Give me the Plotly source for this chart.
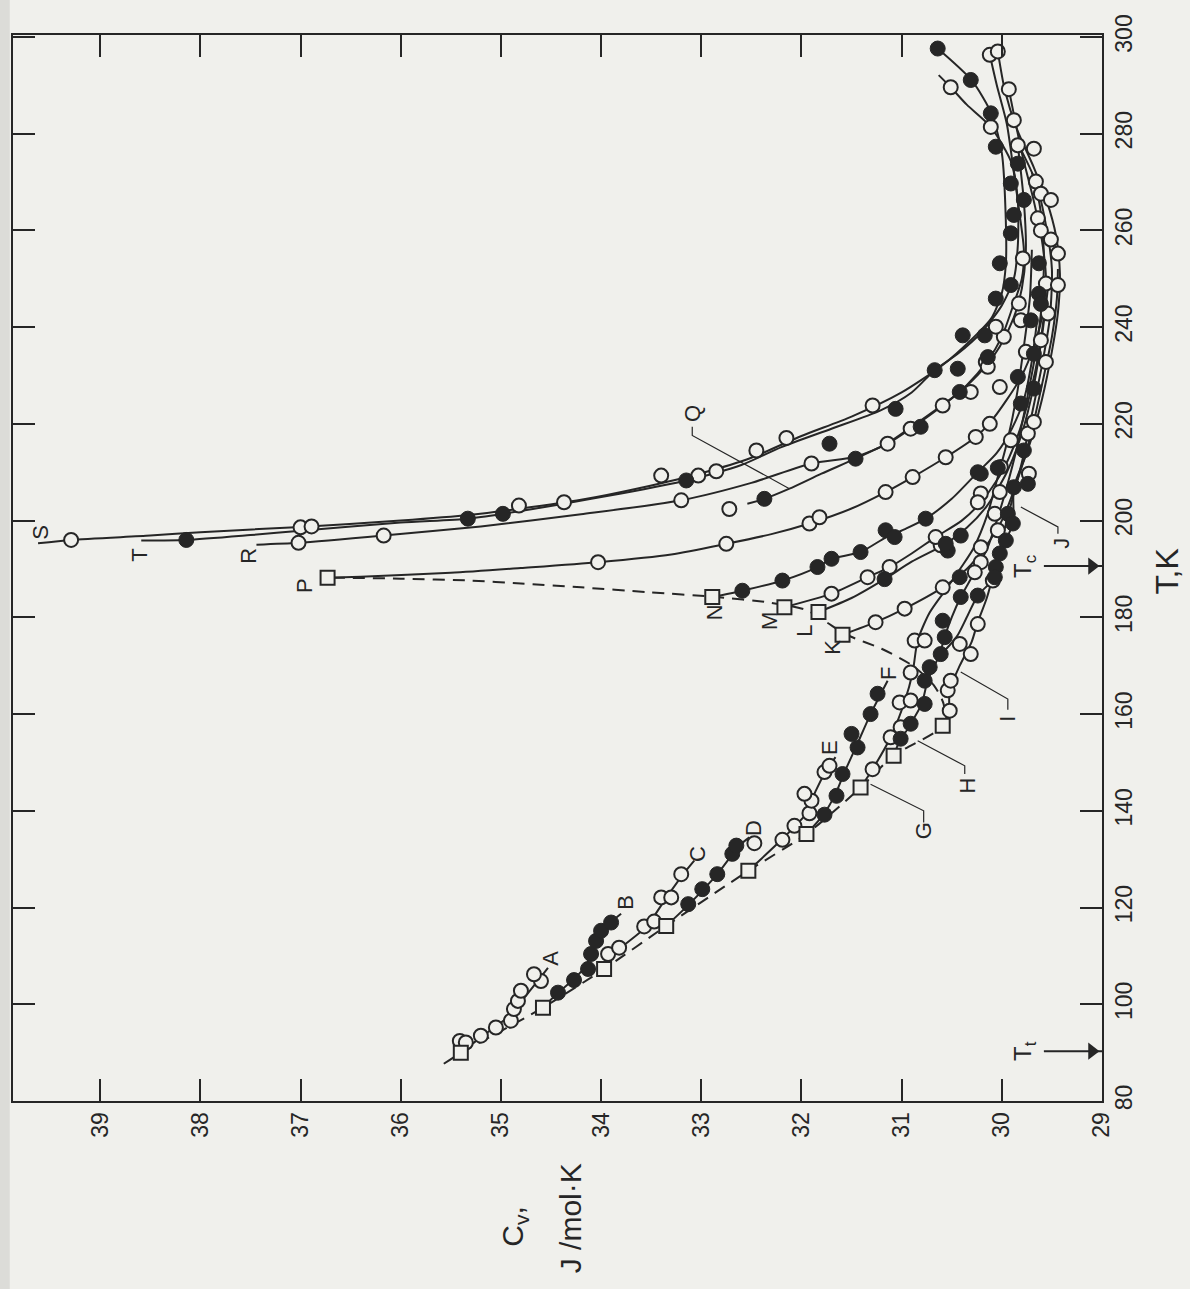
import plotly.graph_objects as go

INK = '#262626'
BG = '#f0f0ec'
FONT = 'Liberation Sans'

# ---------------- axes ----------------
cv_ticks = list(range(29, 40))
t_ticks = list(range(80, 301, 20))

# ---------------- coexistence (dashed) curve + squares ----------------
dash_T = [90.0, 99.3, 107.3, 116.2, 127.6, 135.2, 144.8, 151.4, 157.6, 162.0, 166.0, 170.0, 173.5,
          176.4, 179.0, 181.5, 183.0, 184.2, 185.2, 186.2, 187.0, 187.6, 188.0, 188.2]
dash_Cv = [35.40, 34.58, 33.97, 33.35, 32.53, 31.95, 31.41, 31.08, 30.59, 30.58, 30.68, 30.89, 31.20,
           31.55, 31.75, 31.95, 32.30, 32.85, 33.53, 34.20, 34.80, 35.30, 36.00, 36.73]
sq_T = [90.0, 99.3, 107.3, 116.2, 127.6, 135.2, 144.8, 151.4, 157.6, 176.4, 181.1, 182.1, 184.2, 188.2]
sq_Cv = [35.40, 34.58, 33.97, 33.35, 32.53, 31.95, 31.41, 31.08, 30.59, 31.59, 31.83, 32.17, 32.89, 36.73]

# ---------------- isochores: fitted lines ----------------
A_T = [87.7, 90.0, 93.5, 97.0, 101.0, 107.5]
A_Cv = [35.57, 35.40, 35.18, 34.95, 34.78, 34.53]
B_T = [99.3, 102.4, 105.0, 108.0, 112.0, 116.0, 118.7]
B_Cv = [34.58, 34.43, 34.28, 34.15, 34.06, 33.95, 33.80]
C_T = [107.3, 111.0, 116.0, 122.0, 126.9, 129.7]
C_Cv = [33.97, 33.84, 33.55, 33.35, 33.18, 33.07]
D_T = [116.2, 120.7, 126.9, 132.8, 134.5]
D_Cv = [33.35, 33.12, 32.84, 32.62, 32.52]
E_T = [127.6, 134.0, 139.5, 144.0, 148.0, 151.1]
E_Cv = [32.53, 32.20, 31.95, 31.86, 31.76, 31.66]
F_T = [135.2, 139.2, 143.5, 148.0, 153.0, 160.0, 166.9]
F_Cv = [31.95, 31.78, 31.66, 31.57, 31.46, 31.31, 31.14]
G_T = [144.8, 148.6, 155.2, 162.6, 168.6, 175.2, 181.0, 186.0, 190.5, 194.4, 201.5, 208.3, 216.0, 226.0, 236.0, 246.0, 256.0]
G_Cv = [31.41, 31.29, 31.11, 30.97, 30.89, 30.84, 30.72, 30.55, 30.40, 30.28, 30.14, 30.05, 29.95, 29.85, 29.78, 29.72, 29.70]
H_T = [151.4, 154.9, 158.0, 162.1, 166.9, 172.4, 176.0, 180.0, 184.2, 188.3, 194.0, 200.0, 207.0, 215.0, 225.0, 235.0, 245.0, 255.0, 265.0, 272.0]
H_Cv = [31.08, 31.01, 30.91, 30.80, 30.74, 30.62, 30.57, 30.50, 30.41, 30.30, 30.15, 30.05, 29.95, 29.85, 29.75, 29.66, 29.60, 29.58, 29.62, 29.70]
I_T = [157.6, 160.7, 165.0, 170.0, 175.0, 179.0, 184.0, 190.0, 196.0, 204.0, 212.0, 222.0, 232.0, 242.0, 252.0, 260.0, 270.0, 278.0]
I_Cv = [30.59, 30.53, 30.52, 30.42, 30.30, 30.24, 30.15, 30.07, 30.00, 29.90, 29.80, 29.70, 29.60, 29.52, 29.50, 29.55, 29.66, 29.84]
J_T = [172.0, 176.0, 180.0, 184.5, 188.3, 193.2, 199.4, 206.9, 214.0, 225.0, 235.0, 243.0, 251.0, 259.0, 266.0, 273.0, 281.0, 289.0, 297.0]
J_Cv = [30.62, 30.45, 30.35, 30.24, 30.07, 30.02, 29.89, 29.88, 29.75, 29.60, 29.50, 29.44, 29.42, 29.46, 29.55, 29.68, 29.85, 29.97, 30.04]
K_T = [176.4, 179.0, 181.8, 186.2, 190.0, 195.0, 200.0, 208.0, 217.0, 228.0, 238.0, 246.0, 252.0]
K_Cv = [31.59, 31.26, 30.97, 30.59, 30.35, 30.15, 30.00, 29.85, 29.72, 29.60, 29.50, 29.45, 29.44]
L_T = [181.1, 184.0, 187.9, 191.5, 195.2, 198.5, 203.0, 210.0, 218.0, 228.0, 238.0, 248.0]
L_Cv = [31.83, 31.50, 31.17, 30.90, 30.56, 30.35, 30.15, 29.95, 29.80, 29.68, 29.60, 29.54]
M_T = [182.1, 184.9, 188.3, 190.4, 193.2, 196.6, 200.0, 204.0, 210.0, 217.0, 226.0, 236.0, 246.0]
M_Cv = [32.17, 31.70, 31.34, 31.12, 30.90, 30.66, 30.40, 30.20, 30.00, 29.85, 29.72, 29.62, 29.56]
N_T = [184.2, 185.5, 187.6, 190.4, 192.1, 193.5, 196.5, 198.3, 200.4, 204.5, 210.0, 214.0, 219.0, 225.0, 233.0, 241.0]
N_Cv = [32.89, 32.59, 32.19, 31.84, 31.70, 31.41, 31.16, 30.96, 30.76, 30.50, 30.24, 30.05, 29.90, 29.78, 29.70, 29.65]
P_T = [188.2, 188.4, 189.2, 190.2, 191.4, 193.0, 195.2, 197.2, 199.4, 202.5, 205.9, 209.0, 213.1, 217.3, 220.2, 225.0, 230.0, 236.0, 242.0, 250.0, 258.0, 266.0, 276.0, 289.2]
P_Cv = [36.73, 36.40, 35.50, 34.80, 34.03, 33.30, 32.75, 32.30, 31.92, 31.50, 31.16, 30.89, 30.56, 30.26, 30.12, 29.95, 29.80, 29.68, 29.60, 29.56, 29.60, 29.68, 29.80, 29.93]
Q_T = [203.5, 204.5, 206.6, 209.7, 212.8, 216.0, 219.4, 223.8, 226.6, 231.0, 236.0, 242.0, 248.0, 256.0, 266.0, 277.6]
Q_Cv = [32.54, 32.37, 32.12, 31.80, 31.46, 31.14, 30.90, 30.60, 30.42, 30.20, 30.02, 29.88, 29.80, 29.76, 29.78, 29.84]
R_T = [195.0, 195.4, 196.9, 198.8, 201.3, 204.2, 207.8, 211.8, 213.2, 215.9, 219.0, 223.8, 228.0, 232.8, 238.0, 244.9, 250.0, 256.0, 263.0, 272.0, 282.0, 290.0, 296.3]
R_Cv = [37.44, 37.02, 36.17, 35.20, 34.20, 33.20, 32.50, 31.90, 31.46, 31.14, 30.91, 30.59, 30.35, 30.15, 30.00, 29.88, 29.80, 29.78, 29.82, 29.88, 29.95, 30.05, 30.12]
S_T = [195.3, 196.0, 196.9, 197.6, 198.7, 200.0, 201.2, 202.5, 204.3, 206.8, 209.8, 213.0, 217.5, 221.5, 226.5, 232.0, 237.5, 242.0, 247.0, 253.0, 262.0, 276.0, 284.0, 291.0, 297.6]
S_Cv = [39.62, 39.29, 38.50, 38.00, 37.00, 36.00, 35.30, 34.80, 34.20, 33.60, 33.00, 32.50, 32.00, 31.50, 31.00, 30.60, 30.30, 30.10, 30.00, 29.96, 29.96, 30.00, 30.10, 30.30, 30.64]
T_T = [195.9, 196.0, 197.0, 197.9, 199.6, 200.4, 201.4, 203.4, 205.6, 208.3, 211.5, 215.2, 219.0, 222.8, 226.5, 231.1, 234.5, 239.0, 244.5, 250.0, 257.0, 266.0, 273.8, 281.4, 286.0, 289.6, 292.1]
T_Cv = [38.59, 38.14, 37.50, 37.00, 36.00, 35.33, 34.98, 34.40, 33.80, 33.15, 32.60, 32.20, 31.70, 31.21, 30.90, 30.67, 30.44, 30.20, 30.00, 29.88, 29.84, 29.84, 29.90, 30.11, 30.35, 30.51, 30.63]

# ---------------- measured points ----------------
A_open_T = [92.4, 92.1, 93.5, 95.2, 96.6, 99.0, 100.7, 102.8, 104.8, 106.2]
A_open_Cv = [35.41, 35.35, 35.20, 35.05, 34.90, 34.87, 34.83, 34.80, 34.60, 34.67]
B_fill_T = [102.4, 105.0, 107.3, 110.4, 113.1, 115.2, 116.9]
B_fill_Cv = [34.43, 34.27, 34.13, 34.10, 34.05, 34.00, 33.90]
C_open_T = [110.4, 111.7, 116.1, 117.1, 122.1, 122.1, 126.9]
C_open_Cv = [33.93, 33.82, 33.57, 33.47, 33.40, 33.30, 33.20]
D_fill_T = [120.7, 123.8, 126.9, 131.1, 132.8]
D_fill_Cv = [33.13, 32.99, 32.84, 32.69, 32.65]
D_open_T = [133.3]
D_open_Cv = [32.47]
E_open_T = [134.0, 136.9, 139.5, 142.1, 143.5, 148.0, 149.3]
E_open_Cv = [32.19, 32.07, 31.92, 31.90, 31.97, 31.77, 31.72]
F_fill_T = [139.2, 143.1, 147.6, 153.1, 155.9, 160.0, 164.2]
F_fill_Cv = [31.77, 31.65, 31.59, 31.44, 31.50, 31.31, 31.24]
G_open_T = [148.6, 155.2, 157.3, 162.4, 162.8, 168.6, 175.2, 175.2]
G_open_Cv = [31.29, 31.11, 31.01, 31.02, 30.91, 30.91, 30.87, 30.77]
H_fill_T = [154.9, 158.0, 162.1, 166.9, 169.7, 172.4, 175.9, 179.3, 184.2]
H_fill_Cv = [31.01, 30.91, 30.77, 30.77, 30.72, 30.61, 30.57, 30.59, 30.41]
I_open_T = [160.7, 164.9, 166.9, 172.4, 174.5, 178.6]
I_open_Cv = [30.52, 30.54, 30.51, 30.31, 30.42, 30.24]
K_open_T = [179.0, 181.8, 186.2]
K_open_Cv = [31.26, 30.97, 30.59]
L_fill_T = [187.9, 193.8, 195.2, 196.9]
L_fill_Cv = [31.17, 30.54, 30.56, 30.41]
M_open_T = [184.9, 188.3, 190.4, 196.6]
M_open_Cv = [31.70, 31.34, 31.12, 30.66]
N_fill_T = [185.5, 187.6, 190.4, 192.1, 193.5, 198.0, 196.6, 200.4, 210.0]
N_fill_Cv = [32.59, 32.19, 31.84, 31.70, 31.41, 31.16, 31.07, 30.76, 30.24]
P_open_T = [191.4, 195.2, 199.4, 200.7, 205.9, 209.0, 213.1, 217.3, 220.0]
P_open_Cv = [34.03, 32.75, 31.92, 31.82, 31.16, 30.89, 30.56, 30.26, 30.12]
Q_open_T = [202.4]
Q_open_Cv = [32.72]
Q_fill_T = [204.5, 212.8, 219.4, 226.6]
Q_fill_Cv = [32.37, 31.46, 30.81, 30.42]
R_open_T = [195.4, 196.9, 204.2, 211.8, 215.9, 219.0, 223.8, 226.6]
R_open_Cv = [37.02, 36.17, 33.20, 31.90, 31.14, 30.91, 30.59, 30.31]
S_open_T = [196.0, 198.6, 198.8, 203.1, 203.8, 209.3, 209.3, 210.2, 214.5, 217.1, 223.8]
S_open_Cv = [39.29, 37.00, 36.89, 34.82, 34.37, 33.40, 33.03, 32.85, 32.45, 32.15, 31.29]
T_fill_T = [196.0, 200.4, 201.4, 208.3, 215.9, 223.1, 231.1]
T_fill_Cv = [38.14, 35.33, 34.98, 33.15, 31.72, 31.06, 30.67]

bundle_open_T = [296.3, 297.0, 289.6, 289.2, 282.8, 281.4, 277.6, 276.9, 270.1, 267.6, 266.3, 262.5, 260.0,
                 258.1, 255.2, 254.2, 249.0, 248.7, 244.9, 242.8, 241.4, 238.0, 240.1, 237.3, 234.9, 232.8,
                 232.8, 227.6, 216.6, 218.0, 220.4, 209.7, 211.1, 231.8, 205.6, 205.9, 203.8, 201.4, 198.0,
                 194.5, 191.4, 189.3, 187.6, 194.9]
bundle_open_Cv = [30.12, 30.04, 30.51, 29.93, 29.88, 30.11, 29.84, 29.68, 29.66, 29.61, 29.51, 29.64, 29.61,
                  29.51, 29.44, 29.79, 29.56, 29.44, 29.83, 29.54, 29.81, 29.98, 30.06, 29.61, 29.76, 29.56,
                  30.16, 30.02, 29.91, 29.74, 29.68, 29.73, 30.01, 30.14, 30.21, 30.02, 30.24, 30.07, 30.04,
                  30.21, 30.21, 30.27, 30.09, 30.61]
bundle_fill_T = [297.6, 291.1, 284.2, 277.3, 273.8, 269.7, 266.3, 263.2, 259.4, 253.2, 253.2, 248.7, 245.9,
                 246.9, 244.8, 241.4, 238.3, 238.3, 233.8, 231.4, 234.5, 229.7, 227.3, 224.2, 209.7, 214.5,
                 207.6, 210.9, 206.9, 201.4, 199.4, 195.9, 193.2, 190.4, 188.3, 184.5, 188.3]
bundle_fill_Cv = [30.64, 30.31, 30.11, 30.06, 29.84, 29.91, 29.78, 29.88, 29.91, 29.63, 30.02, 29.91, 30.06,
                  29.63, 29.61, 29.71, 30.17, 30.39, 30.14, 30.44, 29.68, 29.84, 29.68, 29.81, 30.21, 29.78,
                  29.74, 30.04, 29.88, 29.94, 29.89, 29.96, 30.02, 30.06, 30.07, 30.24, 30.42]

# ---------------- curve labels ----------------
lab_text = ['A', 'B', 'C', 'D', 'E', 'F', 'G', 'H', 'I', 'J', 'K', 'L', 'M', 'N', 'P', 'Q', 'R', 'S', 'T']
lab_Cv = [34.50, 33.75, 33.03, 32.48, 31.72, 31.13, 30.78, 30.34, 29.94, 29.40, 31.69, 31.97, 32.32, 32.87, 36.96, 33.09, 37.52, 39.59, 38.61]
lab_T = [109.6, 121.0, 131.1, 136.5, 153.1, 168.4, 135.9, 145.2, 159.0, 195.4, 173.8, 177.3, 179.3, 181.1, 186.6, 222.1, 192.8, 197.5, 192.8]

# leader lines (label -> curve)
leadG_T = [137.6, 140.0, 145.5]
leadG_Cv = [30.78, 30.78, 31.31]
leadH_T = [147.6, 149.3, 154.5]
leadH_Cv = [30.37, 30.37, 30.84]
leadI_T = [160.9, 163.1, 168.7]
leadI_Cv = [29.94, 29.94, 30.41]
leadJ_T = [197.3, 198.7, 202.8]
leadJ_Cv = [29.44, 29.44, 29.81]
leadQ_T = [219.4, 217.6, 206.6]
leadQ_Cv = [33.09, 33.09, 32.12]

# special temperatures (arrows on the T axis)
T_triple = 90.3
T_crit = 190.6
arrow_Cv = [29.58, 29.0]

fig = go.Figure()


def add_line(T, Cv, dash='solid', width=2.0, spline=True):
    fig.add_trace(go.Scatter(
        x=Cv, y=T, mode='lines', hoverinfo='skip', showlegend=False,
        line=dict(color=INK, width=width, dash=dash,
                  shape='spline' if spline else 'linear', smoothing=0.7)))


def add_pts(T, Cv, kind):
    if kind == 'open':
        mk = dict(symbol='circle', size=14, color=BG, line=dict(color=INK, width=2))
    elif kind == 'filled':
        mk = dict(symbol='circle', size=15, color=INK, line=dict(color=INK, width=1))
    else:
        mk = dict(symbol='square', size=14, color=BG, line=dict(color=INK, width=2))
    fig.add_trace(go.Scatter(x=Cv, y=T, mode='markers', marker=mk,
                             hoverinfo='skip', showlegend=False))


add_line(dash_T, dash_Cv, dash='12px,8px')
for T, Cv in [(A_T, A_Cv), (B_T, B_Cv), (C_T, C_Cv), (D_T, D_Cv), (E_T, E_Cv), (F_T, F_Cv),
              (G_T, G_Cv), (H_T, H_Cv), (I_T, I_Cv), (J_T, J_Cv), (K_T, K_Cv), (L_T, L_Cv),
              (M_T, M_Cv), (N_T, N_Cv), (P_T, P_Cv), (Q_T, Q_Cv), (R_T, R_Cv), (S_T, S_Cv), (T_T, T_Cv)]:
    add_line(T, Cv)
for T, Cv in [(leadG_T, leadG_Cv), (leadH_T, leadH_Cv), (leadI_T, leadI_Cv), (leadJ_T, leadJ_Cv), (leadQ_T, leadQ_Cv)]:
    add_line(T, Cv, width=1.2, spline=False)

add_pts(bundle_open_T, bundle_open_Cv, 'open')
add_pts(bundle_fill_T, bundle_fill_Cv, 'filled')
for T, Cv in [(A_open_T, A_open_Cv), (C_open_T, C_open_Cv), (D_open_T, D_open_Cv), (E_open_T, E_open_Cv),
              (G_open_T, G_open_Cv), (I_open_T, I_open_Cv), (K_open_T, K_open_Cv), (M_open_T, M_open_Cv),
              (P_open_T, P_open_Cv), (Q_open_T, Q_open_Cv), (R_open_T, R_open_Cv), (S_open_T, S_open_Cv)]:
    add_pts(T, Cv, 'open')
for T, Cv in [(B_fill_T, B_fill_Cv), (D_fill_T, D_fill_Cv), (F_fill_T, F_fill_Cv), (H_fill_T, H_fill_Cv),
              (L_fill_T, L_fill_Cv), (N_fill_T, N_fill_Cv), (Q_fill_T, Q_fill_Cv), (T_fill_T, T_fill_Cv)]:
    add_pts(T, Cv, 'filled')
add_pts(sq_T, sq_Cv, 'square')

# curve letters
for txt, cv, t in zip(lab_text, lab_Cv, lab_T):
    fig.add_annotation(x=cv, y=t, text=txt, showarrow=False, textangle=-90,
                       xanchor='center', yanchor='middle',
                       font=dict(family=FONT, size=22, color=INK))

# Tc and Tt arrows: shaft + arrow head, then the label
for tval, name in [(T_crit, 'T<sub>c</sub>'), (T_triple, 'T<sub>t</sub>')]:
    fig.add_trace(go.Scatter(x=arrow_Cv, y=[tval, tval], mode='lines', cliponaxis=False,
                             line=dict(color=INK, width=2), hoverinfo='skip', showlegend=False))
    fig.add_trace(go.Scatter(x=[29.1], y=[tval], mode='markers', cliponaxis=False,
                             marker=dict(symbol='triangle-right', size=15, color=INK, line=dict(width=0)),
                             hoverinfo='skip', showlegend=False))
    fig.add_annotation(x=29.78, y=tval, text=name, showarrow=False, textangle=-90,
                       xanchor='center', yanchor='middle',
                       font=dict(family=FONT, size=24, color=INK))

# axis titles (rotated, like the whole page)
fig.add_annotation(xref='x', yref='paper', x=34.86, y=-0.117, text='C<sub>v</sub>,',
                   xanchor='center', yanchor='middle',
                   showarrow=False, textangle=-90, font=dict(family=FONT, size=30, color=INK))
fig.add_annotation(xref='x', yref='paper', x=34.31, y=-0.110, text='J /mol·K',
                   xanchor='center', yanchor='middle',
                   showarrow=False, textangle=-90, font=dict(family=FONT, size=30, color=INK))
fig.add_annotation(xref='paper', yref='y', x=1.0597, y=189.5, text='T,K',
                   xanchor='center', yanchor='middle',
                   showarrow=False, textangle=-90, font=dict(family=FONT, size=32, color=INK))

# scanned left edge
fig.add_shape(type='rect', xref='paper', yref='paper', x0=-0.0125, x1=-0.003, y0=-0.18, y1=1.04,
              fillcolor='#dcdcd8', line=dict(width=0), layer='below')

axis_common = dict(ticks='inside', ticklen=22, tickwidth=2, tickcolor=INK, showline=True,
                   linewidth=2, linecolor=INK, mirror='ticks', showgrid=False, zeroline=False,
                   tickangle=-90, tickfont=dict(family=FONT, size=23, color=INK))
fig.update_layout(
    width=1190, height=1289,
    margin=dict(l=13, r=88, t=35, b=188),
    paper_bgcolor=BG, plot_bgcolor=BG, showlegend=False,
    xaxis=dict(range=[39.87, 29.0], tickvals=cv_ticks, ticktext=[str(v) for v in cv_ticks], **axis_common),
    yaxis=dict(range=[80, 300.4], side='right', tickvals=t_ticks, ticktext=[str(v) for v in t_ticks], **axis_common),
)

fig.write_html('out.html',
               config={'displayModeBar': False},
               post_script="document.body.style.margin='0';document.body.style.background='%s';"
                           "document.documentElement.style.overflow='hidden';" % BG)
